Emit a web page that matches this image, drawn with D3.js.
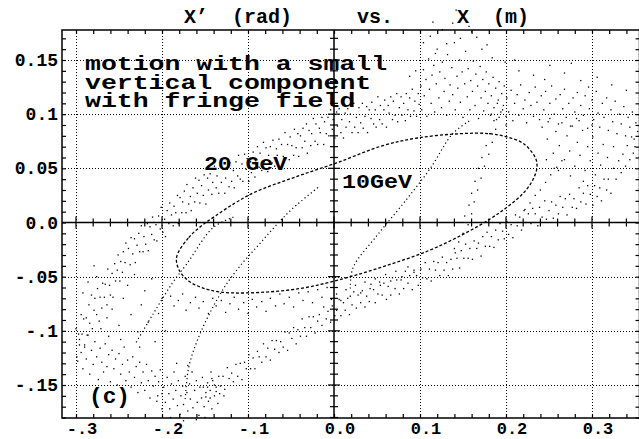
<!DOCTYPE html>
<html><head><meta charset="utf-8">
<script src="https://cdn.jsdelivr.net/npm/d3@7"></script>
<style>
html,body{margin:0;padding:0;background:#fff;}
svg{display:block;}
text{font-family:"Liberation Mono","DejaVu Sans Mono",monospace;font-weight:bold;fill:#000;}
</style></head><body>
<svg id="c" width="639" height="439"></svg>
<script>
// ---------- data (axis units) ----------
const xTicks = [-0.3,-0.2,-0.1,0.0,0.1,0.2,0.3];
const xTickLabels = ["-.3","-.2","-.1","0.0","0.1","0.2","0.3"];
const yTicks = [0.15,0.1,0.05,0.0,-0.05,-0.1,-0.15];
const yTickLabels = ["0.15","0.1","0.05","0.0","-.05","-.1","-.15"];
const titleParts = ["X’  (rad)","vs.","X  (m)"];
const noteLines = ["motion with a small","vertical component","with fringe field"];
const energyLabels = ["20 GeV","10GeV"];
const panelLabel = "(c)";

// scatter points, in units of 1e-3 (X in m, X' in rad)
const upperBand = [
[-239,-24],[-237,-39],[-236,-14],[-234,-29],[-232,-15],[-231,-37],[-229,-21],[-227,-10],[-226,-27],[-224,-3],[-222,-27],[-221,-13],[-219,-20],[-217,-1],[-216,-26],[-214,-4],[-212,-11],[-211,5],[-209,-16],[-207,-2],[-206,-17],[-204,6],[-202,-6],[-201,14],[-199,-9],[-197,3],[-196,-13],[-194,11],[-192,-1],[-191,18],[-189,7],[-187,-3],[-186,15],[-184,9],[-182,25],[-181,-1],[-179,23],[-177,9],[-176,19],[-174,29],[-172,9],[-171,35],[-169,17],[-167,24],[-166,11],[-164,32],[-162,19],[-161,41],
[-159,27],[-157,39],[-156,18],[-154,34],[-152,25],[-151,44],[-149,17],[-147,41],[-146,30],[-144,45],[-142,26],[-141,37],[-139,52],[-137,32],[-136,43],[-134,27],[-132,52],[-131,37],[-129,49],[-127,27],[-126,41],[-124,49],[-122,33],[-121,55],[-119,38],[-117,48],[-116,32],[-114,56],[-112,43],[-111,62],[-109,40],[-107,54],[-106,38],[-104,63],[-102,49],[-101,59],[-99,38],[-97,56],[-96,46],[-94,65],[-92,42],[-91,57],[-89,70],[-87,51],[-86,64],[-84,48],[-82,74],[-81,56],[-79,69],[-77,47],[-76,62],[-74,70],[-72,55],[-71,76],[-69,52],[-67,68],[-66,62],[-64,77],[-62,51],[-61,72],[-59,61],[-57,83],[-56,59],[-54,72],[-52,58],[-51,79],[-49,71],[-47,62],[-46,86],[-44,69],[-42,82],[-41,61],[-39,80],[-37,69],[-36,87],[-34,75],[-32,91],[-31,64],[-29,85],[-27,71],[-26,82],[-24,96],[-22,75],[-21,91],[-19,72],[-17,87],[-16,83],[-14,97],[-12,72],[-11,93],[-9,82],[-7,97],[-6,80],[-4,104],[-2,86],[-1,95],
[1,78],[3,102],[4,89],[6,105],[8,83],[9,95],[11,78],[13,101],[14,88],[16,105],[18,93],[19,100],[21,83],[23,110],[24,88],[26,97],[28,83],[29,106],[31,92],[33,110],[34,87],[36,98],[38,107],[39,83],[41,104],[43,96],[44,111],[46,91],[48,104],[49,88],[51,116],[53,95],[54,108],[56,91],[58,104],[59,113],[61,88],[63,108],[64,101],[66,116],[68,95],[69,112],[71,99],[73,119],[74,93],[76,106],[78,116],[79,99],[81,110],[83,94],[84,119],[86,104],[88,115],[89,98],[91,123],[93,103],[94,112],[96,98],[98,119],[99,109],
[101,126],[102,104],[104,141],[105,117],[107,132],[108,98],[110,151],[111,123],[113,110],[114,136],[116,145],[117,102],[119,128],[120,160],[122,115],[123,139],[125,106],[126,148],[128,121],[129,133],[131,99],[132,155],[134,112],[135,127],[137,143],[138,118],[140,166],[141,104],[143,135],[144,124],[146,150],[147,111],[149,139],[150,97],[152,128],[153,158],[155,116],[156,142],[158,104],[159,131],[161,121],[162,149],[164,108],[165,137],[167,126],[168,96],[170,144],[171,115],[173,132],[174,103],[176,121],[177,139],[179,110],[180,128],[182,99],[183,117],[185,134],[186,106],[188,124],[189,95],[191,113],[192,130],[194,102],[195,119],[197,108],[198,126],[200,98],
[112,172],[126,178],[138,184],[147,170],[151,190],[160,176],[172,160],[104,166],[131,165],[157,181],[166,171],[118,156],[184,152],[199,148],[95,140],[88,135],[178,164],[142,196],[115,185],
[201,115],[203,102],[206,122],[208,94],[210,110],[213,118],[215,99],[217,127],[220,105],[222,113],[224,92],[227,120],[229,108],[232,98],[234,125],[236,111],[239,95],[241,117],[244,104],[246,121],[249,93],[251,110],[253,126],[256,100],[258,114],[261,91],[263,118],[266,105],[268,123],[270,97],[273,110],[275,89],[278,115],[280,102],[283,120],[285,94],[287,108],[290,99],[292,117],[295,87],[297,105],[300,113],[302,95],[305,121],[307,101],[309,88],[312,110],[314,97],[317,115],[319,85],[322,104],[324,93],[327,112],[329,82],[332,100],[334,91],[337,107],[339,80],[342,97],[344,88],[347,102],[349,77],[351,92],
[215,140],[232,136],[251,145],[268,138],[287,131],[306,134],[323,127],[340,122],[245,132],[276,147],[210,150],[296,125]
];
const lowerBand = [
[353,84],[350,70],[348,64],[346,79],[344,58],[341,71],[339,52],[336,63],[334,46],[331,57],[328,40],[325,50],
[322,27],[319,40],[317,30],[314,40],[311,20],[309,32],[306,24],[303,34],[301,16],[298,26],[295,34],[293,17],[290,27],[287,19],[285,32],[282,13],[279,22],[277,14],[274,26],[271,7],[269,22],[266,14],[263,24],[261,8],[258,16],[255,4],[253,19],[250,11],[247,3],[245,20],[242,5],[239,14],[237,-3],[234,8],[231,13],[229,-1],[226,8],[223,0],[221,11],
[218,-7],[216,5],[213,-3],[211,7],[208,-14],[206,-2],[203,-11],[201,1],[198,-15],[196,-8],[193,-1],[191,-16],[188,-7],[186,-23],[183,-13],[181,-22],[178,-9],[176,-22],[173,-13],[171,-31],[168,-19],[166,-24],[163,-17],[161,-34],[158,-24],[156,-33],[153,-20],[151,-33],[148,-26],[146,-42],[143,-33],[141,-28],[138,-43],[136,-34],
[133,-49],[131,-37],[128,-44],[126,-32],[123,-49],[121,-37],[118,-44],[116,-36],[113,-54],[111,-43],[108,-52],[106,-37],[103,-51],[101,-43],[98,-58],[96,-49],[93,-44],[91,-62],[88,-49],[86,-56],[83,-45],[81,-61],[78,-53],[76,-66],[73,-53],[71,-61],[68,-51],[66,-67],[63,-59],[61,-71],[58,-56],[56,-67],[53,-55],[51,-66],[48,-74],[46,-62],[43,-57],[41,-73],[38,-68],[36,-78],[33,-63],[31,-74],[28,-67],[26,-79],[23,-64],[21,-76],[18,-85],[16,-70],[13,-81],[11,-74],[8,-86],[6,-71],[3,-81],[1,-86],
[-2,-77],[-4,-92],[-7,-82],[-9,-89],[-12,-78],[-14,-95],[-17,-85],[-19,-91],[-22,-102],[-24,-87],[-27,-97],[-29,-87],[-32,-105],[-34,-97],[-37,-89],[-39,-105],[-42,-99],[-44,-112],[-47,-97],[-49,-107],[-52,-102],[-54,-118],[-57,-101],[-59,-115],[-62,-110],[-64,-120],[-67,-109],[-69,-117],[-72,-109],[-74,-127],[-77,-116],[-79,-124],[-82,-112],[-84,-129],[-87,-124],[-89,-119],[-92,-135],[-94,-125],[-97,-135],[-99,-122],[-102,-135],[-104,-129],[-107,-145],[-109,-130],[-112,-142],[-114,-131],[-117,-147],[-119,-139],[-122,-144],[-124,-134],[-127,-154],[-129,-142],[-132,-151],[-134,-142],[-137,-156],[-139,-150],[-142,-144],[-144,-162],[-147,-152],[-149,-161],[-152,-152]
];
const bottomCluster = [
[-198,-152],[-196,-166],[-194,-143],[-192,-158],[-191,-172],[-189,-149],[-187,-163],[-186,-138],[-184,-155],[-182,-169],[-181,-146],[-179,-177],[-178,-160],[-176,-151],[-175,-168],[-173,-142],[-171,-157],[-170,-174],[-168,-149],[-167,-163],[-165,-138],[-164,-171],[-162,-155],[-160,-146],[-159,-166],[-157,-178],[-156,-152],[-154,-162],[-153,-143],[-151,-170],[-149,-157],[-147,-148],[-146,-165],[-144,-155],[-142,-172],[-141,-146],[-139,-160],[-137,-152],[-135,-167],[-133,-158],[-190,-180],[-175,-183],[-160,-182],[-200,-172],[-205,-160],[-183,-130],[-170,-132],[-150,-180],[-128,-160],[-143,-138]
];
const leftSide = [
[-300,-98],[-299,-124],[-297,-103],[-296,-113],[-294,-85],[-293,-103],[-291,-89],[-290,-115],[-288,-88],[-287,-104],[-285,-76],[-284,-93],[-282,-67],[-281,-98],[-279,-81],[-278,-70],[-276,-85],[-275,-61],[-273,-91],[-272,-69],[-270,-79],[-269,-56],[-267,-69],[-266,-57],[-264,-76],[-263,-43],[-261,-58],[-260,-67],[-258,-47],[-257,-69],[-255,-38],[-254,-54],[-252,-44],[-251,-30],[-249,-54],[-248,-36],[-246,-46],[-245,-27],[-243,-37],[-242,-19],
[-298,-128],[-296,-108],[-294,-120],[-292,-135],[-290,-113],[-288,-126],[-286,-104],[-284,-140],[-282,-118],[-280,-131],[-278,-110],[-276,-124],[-274,-145],[-272,-116],[-270,-129],[-268,-138],[-266,-112],[-264,-133],[-262,-122],[-260,-147],[-258,-118],[-256,-135],[-254,-126],[-252,-150],[-250,-121],[-248,-140],[-246,-131],[-244,-115],[-242,-146],[-240,-127],[-238,-138],[-236,-152],[-234,-124],[-232,-143],[-230,-133],[-228,-157],[-226,-129],[-224,-148],[-222,-138],[-220,-155],[-218,-131],[-216,-146],[-214,-162],[-212,-137],[-210,-151],[-208,-142],[-206,-165],[-204,-147],[-202,-136],[-200,-158],
[-286,-55],[-279,-40],[-271,-98],[-264,-88],[-258,-80],[-250,-95],[-245,-70],[-240,-58],[-236,-85],[-232,-48],[-228,-101],[-224,-76],[-220,-63],[-216,-92],[-212,-52],[-208,-110],[-204,-84],[-200,-70],[-196,-100],[-226,-115],[-262,-105],[-248,-108],[-292,-65],[-276,-50]
];
const midBand = [
[-190,-68],[-186,-77],[-181,-72],[-176,-66],[-172,-81],[-167,-74],[-161,-69],[-157,-79],[-152,-73],[-146,-84],[-141,-70],[-137,-77],[-131,-72],[-126,-83],[-121,-75],[-116,-69],[-111,-80],[-105,-74],[-100,-84],[-95,-71],[-90,-78],[-84,-73],[-79,-82],[-74,-70],[-68,-77],[-63,-66],[-58,-75],[-52,-69],[-47,-78],[-41,-65],[-36,-72],[-30,-64],[-25,-74],[-19,-62],[-14,-69],[-8,-60],[-3,-71],
[3,-66],[8,-72],[14,-62],[19,-68],[25,-58],[31,-65],[36,-55],[42,-61],[48,-52],[54,-58],[60,-48],[66,-54],[72,-45],[79,-50],[86,-41],[93,-46]
];
const rightScatter = [
[150,-10],[156,-2],[152,6],[160,8],[157,16],[163,19],[160,27],[167,30],[164,38],[171,41],[168,50],[175,52],[172,60],[180,63],[177,71],[184,74],[181,82],[188,86],[186,94],[192,97],[196,104],[183,100],[190,110],[200,90],[145,-18],[140,-24],
[242,88],[248,77],[251,96],[255,64],[258,84],[262,71],[265,92],[268,58],[271,80],[274,66],[277,89],[280,52],[283,74],[286,62],[289,85],[292,48],[295,70],[298,57],[301,79],[304,44],[307,64],[310,53],[313,72],[261,48],[275,43],[290,38],[247,58],[256,50],[282,96],[300,90],[318,60],[325,70],
[222,12],[228,18],[234,25],[240,30],[246,37],[252,44],[259,51],[265,57]
];
// thin curves (1e-3 units)
const dashedEllipse = [
[-183,-32],[-169,-14],[-154,-3],[-138,6],[-115,18],[-92,28],[-45,42],[3,55],[57,71],[97,78],[147,82],[181,82],[201,79],[220,73],[234,60],[236,51],[231,39],[220,27],[201,14],[181,3],[150,-11],[110,-26],[60,-40],[10,-52],[-40,-61],[-100,-65],[-134,-64],[-154,-60],[-169,-54],[-180,-44]
];
const innerLineA = [[-173,-163],[-169,-134],[-159,-109],[-144,-83],[-126,-58],[-107,-38],[-88,-21],[-69,-4],[-48,13],[-16,34]];
const innerLineB = [[19,-61],[22,-42],[50,-12],[80,17],[112,50],[138,82],[158,94]];
const innerLineC = [[-117,5],[-141,-5],[-171,-38],[-188,-56],[-210,-84],[-231,-112]];

// ---------- layout ----------
const L = 62, R = 639.5, T = 30, B = 418;
const x = d3.scaleLinear().domain([-0.3, 0.3]).range([76, 592]);
const y = d3.scaleLinear().domain([-0.15, 0.15]).range([385, 60]);
const xs = v => x(v/1000), ys = v => y(v/1000);

const svg = d3.select("#c");
const g = svg.append("g");

// grid (dotted)
g.append("g").selectAll("line").data(xTicks.filter(v => v !== 0)).join("line")
  .attr("x1", d => Math.round(x(d))+0.5).attr("x2", d => Math.round(x(d))+0.5)
  .attr("y1", T).attr("y2", B)
  .attr("stroke", "#000").attr("stroke-width", 1).attr("stroke-dasharray", "1,2");
g.append("g").selectAll("line").data(yTicks.filter(v => v !== 0)).join("line")
  .attr("y1", d => Math.round(y(d))+0.5).attr("y2", d => Math.round(y(d))+0.5)
  .attr("x1", L).attr("x2", R)
  .attr("stroke", "#000").attr("stroke-width", 1).attr("stroke-dasharray", "1,2");

// minor tick positions
const xMinor = d3.range(-30, 36, 2).map(v => v/100);
const yMinor = d3.range(-18, 18, 1).map(v => v/100);

// frame axes
const frame = g.append("g");
frame.append("g").attr("transform", `translate(0,${T})`)
  .call(d3.axisBottom(x).tickValues(xMinor).tickSize(4).tickFormat(""))
  .call(s => s.select(".domain").remove());
frame.append("g").attr("transform", `translate(0,${B})`)
  .call(d3.axisTop(x).tickValues(xMinor).tickSize(4).tickFormat(""))
  .call(s => s.select(".domain").remove());
frame.append("g").attr("transform", `translate(${L},0)`)
  .call(d3.axisRight(y).tickValues(yMinor).tickSize(4).tickFormat(""))
  .call(s => s.select(".domain").remove());
frame.append("g").attr("transform", `translate(${R},0)`)
  .call(d3.axisLeft(y).tickValues(yMinor).tickSize(4).tickFormat(""))
  .call(s => s.select(".domain").remove());
frame.selectAll("line").attr("stroke", "#000").attr("stroke-width", 1.2);
frame.append("path").attr("d", `M${L},${B}V${T}H${R}V${B}Z`)
  .attr("fill", "none").attr("stroke", "#000").attr("stroke-width", 1.5);

// zero axes with crossing ticks
const zero = g.append("g");
const y0 = y(0), x0 = x(0);
zero.append("line").attr("x1", L).attr("x2", R).attr("y1", y0).attr("y2", y0)
  .attr("stroke", "#000").attr("stroke-width", 1.5);
zero.append("line").attr("x1", x0).attr("x2", x0).attr("y1", T).attr("y2", B)
  .attr("stroke", "#000").attr("stroke-width", 1.5);
zero.selectAll(".xt").data(xMinor).join("line")
  .attr("x1", d => x(d)).attr("x2", d => x(d))
  .attr("y1", d => y0 - (Math.abs(Math.round(d*100)) % 10 === 0 ? 6 : 4))
  .attr("y2", d => y0 + (Math.abs(Math.round(d*100)) % 10 === 0 ? 6 : 4))
  .attr("stroke", "#000").attr("stroke-width", 1.2);
zero.selectAll(".yt").data(yMinor).join("line")
  .attr("y1", d => y(d)).attr("y2", d => y(d))
  .attr("x1", d => x0 - (Math.abs(Math.round(d*100)) % 5 === 0 ? 6 : 4))
  .attr("x2", d => x0 + (Math.abs(Math.round(d*100)) % 5 === 0 ? 6 : 4))
  .attr("stroke", "#000").attr("stroke-width", 1.2);

// tick labels
g.append("g").selectAll("text").data(xTicks).join("text")
  .attr("x", d => x(d) + 6).attr("y", 434)
  .attr("text-anchor", "middle").attr("font-size", 17)
  .text((d, i) => xTickLabels[i]);
g.append("g").selectAll("text").data(yTicks).join("text")
  .attr("x", 58).attr("y", d => y(d) + 6)
  .attr("text-anchor", "end").attr("font-size", 18)
  .text((d, i) => yTickLabels[i]);

// title
const titleX = [184, 357, 457];
svg.append("g").selectAll("text").data(titleParts).join("text")
  .attr("x", (d, i) => titleX[i]).attr("y", 23)
  .attr("font-size", 20)
  .style("white-space", "pre")
  .text(d => d);

// scatter
const pts = g.append("g").attr("fill", "#000");
[upperBand, lowerBand, bottomCluster, leftSide, midBand, rightScatter].forEach(arr => {
  pts.append("g").selectAll("rect").data(arr).join("rect")
    .attr("x", d => xs(d[0]) - 0.65).attr("y", d => ys(d[1]) - 0.65)
    .attr("width", 1.3).attr("height", 1.3);
});

// thin curves
g.append("path")
  .attr("d", d3.line().x(d => xs(d[0])).y(d => ys(d[1])).curve(d3.curveCatmullRomClosed)(dashedEllipse))
  .attr("fill", "none").attr("stroke", "#000").attr("stroke-width", 1.3)
  .attr("stroke-dasharray", "3,2");
[innerLineA, innerLineB, innerLineC].forEach(arr => {
  g.append("path")
    .attr("d", d3.line().x(d => xs(d[0])).y(d => ys(d[1])).curve(d3.curveCatmullRom)(arr))
    .attr("fill", "none").attr("stroke", "#000").attr("stroke-width", 1.2)
    .attr("stroke-dasharray", "1.2,2.8");
});

// annotation text
const noteY = [70, 89, 107];
svg.append("g").selectAll("text").data(noteLines).join("text")
  .attr("x", 85).attr("y", (d, i) => noteY[i])
  .attr("font-size", 20)
  .attr("textLength", d => d.length * 15.9).attr("lengthAdjust", "spacingAndGlyphs")
  .text(d => d);
svg.append("text").attr("x", 204).attr("y", 170).attr("font-size", 21)
  .attr("textLength", 83).attr("lengthAdjust", "spacingAndGlyphs").text(energyLabels[0]);
svg.append("text").attr("x", 342).attr("y", 188).attr("font-size", 21)
  .attr("textLength", 70).attr("lengthAdjust", "spacingAndGlyphs").text(energyLabels[1]);
svg.append("text").attr("x", 89).attr("y", 403).attr("font-size", 22)
  .attr("textLength", 41).attr("lengthAdjust", "spacingAndGlyphs").text(panelLabel);
</script>
</body></html>
